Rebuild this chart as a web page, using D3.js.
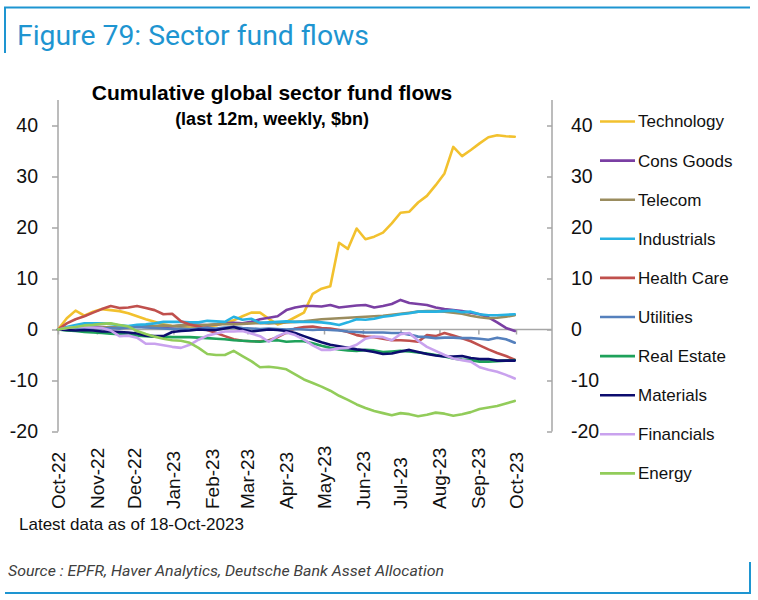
<!DOCTYPE html>
<html><head><meta charset="utf-8">
<script src="https://cdn.jsdelivr.net/npm/d3@7/dist/d3.min.js"></script>
<style>body{margin:0;background:#fff}svg{display:block}</style>
</head><body>
<svg id="chart" width="758" height="600"></svg>
<script>
// ---- data ----
const firstWeek = "2022-10-19";          // weekly (Wednesdays), 53 points
const tickDates = ["2022-10-19","2022-11-19","2022-12-19","2023-01-19","2023-02-19","2023-03-19",
  "2023-04-19","2023-05-19","2023-06-19","2023-07-19","2023-08-19","2023-09-19","2023-10-19"];
const tickLabels = ["Oct-22","Nov-22","Dec-22","Jan-23","Feb-23","Mar-23","Apr-23","May-23",
  "Jun-23","Jul-23","Aug-23","Sep-23","Oct-23"];
const yTicks = [-20,-10,0,10,20,30,40];

const seriesNames = ["Technology","Cons Goods","Telecom","Industrials","Health Care",
  "Utilities","Real Estate","Materials","Financials","Energy"];
const seriesColors = ["#f2c12e","#7a3fa3","#9a8c5e","#27b2e2","#c0504d",
  "#5580bd","#1ea15a","#0c0c6e","#c9a2ee","#92cc5a"];

const technology = [0,2.2,3.7,2.7,3.5,4.0,3.8,3.6,3.2,2.6,2.0,1.5,1.0,0.7,0.5,0.4,0.5,0.6,0.8,1.3,1.8,2.6,3.3,3.3,2.1,1.0,1.5,2.4,3.3,7.0,8.0,8.5,17.0,15.8,19.8,17.7,18.2,19.0,20.8,22.9,23.1,24.9,26.2,28.3,30.6,35.8,34.0,35.2,36.5,37.7,38.1,37.9,37.8];
const consGoods = [0,0.2,0.4,0.5,0.6,0.5,0.4,0.3,0.5,0.7,0.8,0.6,0.5,0.6,0.8,1.0,0.9,0.8,1.0,1.2,1.3,1.2,1.5,2.0,2.3,2.6,3.8,4.3,4.6,4.6,4.5,4.8,4.3,4.5,4.7,4.8,4.3,4.6,5.0,5.8,5.2,5.0,4.8,4.3,4.0,3.8,3.6,3.3,3.0,2.4,1.4,0.3,-0.3];
const telecom = [0,0.1,0.2,0.3,0.2,0.4,0.5,0.4,0.5,0.6,0.5,0.7,0.8,0.7,0.8,0.9,0.8,0.9,1.0,1.1,1.0,1.1,1.2,1.3,1.2,1.3,1.4,1.5,1.6,1.8,2.0,2.1,2.2,2.3,2.4,2.5,2.6,2.7,2.9,3.1,3.3,3.5,3.6,3.6,3.5,3.3,3.1,2.7,2.4,2.2,2.3,2.5,2.8];
const industrials = [0,0.5,0.9,1.2,1.2,1.2,1.1,0.8,0.7,0.9,1.0,1.2,1.5,1.5,1.5,1.4,1.4,1.7,1.6,1.5,2.5,1.9,2.1,1.3,1.4,1.5,1.6,1.5,1.5,1.5,1.4,1.2,0.9,1.4,2.0,1.9,2.1,2.5,2.7,3.0,3.2,3.5,3.5,3.5,3.6,3.7,3.4,3.5,3.0,2.8,2.8,2.9,3.0];
const healthCare = [0,1.2,2.0,2.6,3.3,4.0,4.6,4.2,4.3,4.6,4.2,3.8,3.0,3.1,1.6,1.0,0.6,-0.1,-0.7,-1.3,-1.9,-2.2,-2.3,-2.3,-2.1,-1.5,-0.6,0.2,0.5,0.6,0.3,0.2,-0.1,-0.5,-1.1,-1.4,-1.5,-1.8,-2.1,-2.1,-2.2,-2.4,-1.1,-1.3,-0.7,-1.2,-1.7,-2.3,-3.1,-3.9,-4.6,-5.2,-5.9];
const utilities = [0,0.2,0.3,0.4,0.3,0.2,0.3,0.2,0.4,0.5,0.4,0.3,0.2,0.1,0.2,0.1,0.2,0.3,0.2,0.4,0.5,0.3,0.2,0.1,0.2,0.1,0.0,0.1,0.0,-0.1,0.0,-0.1,-0.2,-0.4,-0.5,-0.6,-0.6,-0.6,-0.7,-0.7,-1.0,-1.4,-1.5,-1.7,-1.6,-1.6,-1.7,-1.7,-1.8,-2.0,-1.6,-1.9,-2.6];
const realEstate = [0,-0.2,-0.3,-0.5,-0.6,-0.7,-0.8,-0.9,-1.0,-1.2,-1.3,-1.4,-1.4,-1.5,-1.5,-1.5,-1.6,-1.7,-1.8,-1.9,-2.1,-2.2,-2.3,-2.4,-2.2,-2.1,-2.4,-2.3,-2.3,-2.7,-3.2,-3.6,-3.9,-4.1,-4.2,-4.0,-4.1,-4.4,-4.3,-4.2,-4.3,-4.5,-4.7,-5.0,-5.3,-5.7,-5.9,-6.0,-6.3,-6.3,-6.2,-6.1,-6.0];
const materials = [0,-0.1,-0.2,-0.1,-0.2,-0.4,-0.4,-0.5,-0.6,-0.8,-1.2,-1.3,-1.3,-0.5,-0.3,-0.2,0.0,-0.1,-0.1,0.2,0.5,0.0,-0.4,-0.2,0.0,-0.1,-0.3,-0.7,-1.3,-1.9,-2.5,-3.0,-3.3,-3.6,-3.9,-4.1,-4.4,-4.8,-4.7,-4.3,-4.0,-4.4,-4.8,-5.1,-5.3,-5.3,-5.2,-5.6,-5.8,-5.8,-6.1,-6.1,-6.1];
const financials = [0,0.3,0.5,0.5,0.4,0.3,-0.2,-1.3,-1.2,-1.6,-2.8,-2.8,-3.1,-3.4,-3.6,-3.0,-2.0,-1.2,-0.8,-0.4,-0.4,-0.3,-0.8,-1.3,-2.4,-1.3,-0.6,-1.1,-2.0,-3.1,-4.0,-4.0,-3.7,-3.6,-3.0,-1.8,-1.4,-1.5,-2.1,-0.9,-0.7,-2.2,-3.4,-4.2,-5.0,-5.7,-6.0,-6.3,-7.4,-7.9,-8.3,-8.9,-9.6];
const energy = [0,0.3,0.5,0.8,0.9,1.1,1.2,0.9,0.6,-0.3,-0.9,-1.4,-1.8,-2.1,-2.2,-2.6,-3.6,-4.8,-5.0,-5.0,-4.2,-5.2,-6.2,-7.4,-7.3,-7.5,-7.8,-8.8,-9.8,-10.5,-11.2,-12.0,-13.0,-13.8,-14.7,-15.4,-16.0,-16.4,-16.8,-16.4,-16.6,-17.0,-16.7,-16.3,-16.5,-16.9,-16.6,-16.2,-15.6,-15.3,-15.0,-14.5,-14.0];

const seriesValues = [technology,consGoods,telecom,industrials,healthCare,utilities,realEstate,materials,financials,energy];

// ---- drawing ----
const svg = d3.select("#chart");
const parse = d3.timeParse("%Y-%m-%d");
const d0 = parse(firstWeek);
const weekDates = technology.map((_, i) => d3.timeDay.offset(d0, 7 * i));

const x = d3.scaleTime().domain([d0, parse("2023-10-19")]).range([58, 516]);
const y = d3.scaleLinear().domain([-20, 45]).range([431.5, 100]);
const blue = "#1e95d1";
const axisGrey = "#a6a6a6";
const font = "'Liberation Sans', Arial, sans-serif";

// frame
svg.append("path").attr("d", "M5,53V7.5H750").attr("fill", "none").attr("stroke", blue).attr("stroke-width", 2);
svg.append("path").attr("d", "M5,593H750V562").attr("fill", "none").attr("stroke", blue).attr("stroke-width", 2);

svg.append("text").attr("x", 17).attr("y", 45).attr("fill", blue)
  .style("font-family", "Roboto, sans-serif").style("font-size", "27px")
  .attr("textLength", 352).attr("lengthAdjust", "spacingAndGlyphs")
  .text("Figure 79: Sector fund flows");

svg.append("text").attr("x", 8).attr("y", 576).attr("fill", "#404040")
  .style("font-family", "Roboto, sans-serif").style("font-size", "15px").style("font-style", "italic")
  .attr("textLength", 436).attr("lengthAdjust", "spacingAndGlyphs")
  .text("Source : EPFR, Haver Analytics, Deutsche Bank Asset Allocation");

// chart titles
svg.append("text").attr("x", 272).attr("y", 100).attr("text-anchor", "middle")
  .style("font-family", font).style("font-size", "21px").style("font-weight", "bold")
  .text("Cumulative global sector fund flows");
svg.append("text").attr("x", 272).attr("y", 125).attr("text-anchor", "middle")
  .style("font-family", font).style("font-size", "18px").style("font-weight", "bold")
  .text("(last 12m, weekly, $bn)");

const fmt = d => String(d);
// left axis
const leftAxis = d3.axisLeft(y).tickValues(yTicks).tickSize(6).tickPadding(14).tickFormat(fmt);
const gL = svg.append("g").attr("transform", "translate(58,0)").call(leftAxis);
gL.select(".domain").attr("d", `M0,${y(45)}V${y(-20)}`);
// right axis
const rightAxis = d3.axisRight(y).tickValues(yTicks).tickSize(0).tickPadding(19).tickFormat(fmt);
const gR = svg.append("g").attr("transform", "translate(552,0)").call(rightAxis);
gR.select(".domain").attr("d", `M0,${y(45)}V${y(-20)}`);
gR.selectAll(".tick").append("line").attr("x1", -5).attr("x2", 0).attr("stroke", axisGrey).attr("stroke-width", 1.5);
[gL, gR].forEach(g => {
  g.selectAll(".domain").attr("stroke", axisGrey).attr("stroke-width", 1.5);
  g.selectAll(".tick line").attr("stroke", axisGrey).attr("stroke-width", 1.5);
  g.selectAll("text").style("font-family", font).style("font-size", "19.5px").attr("fill", "#111");
});

// zero line with month ticks
const tickD = tickDates.map(parse);
const xAxis = d3.axisBottom(x).tickValues(tickD).tickSize(5).tickFormat(() => "");
const gX = svg.append("g").attr("transform", `translate(0,${y(0)})`).call(xAxis);
gX.select(".domain").attr("d", `M58,0H552`).attr("stroke", axisGrey).attr("stroke-width", 1.5);
gX.selectAll(".tick line").attr("stroke", axisGrey).attr("stroke-width", 1.5);

// rotated month labels
svg.append("g").selectAll("text").data(tickD).join("text")
  .attr("transform", d => `translate(${x(d)},509) rotate(-90)`)
  .attr("dy", "0.35em")
  .style("font-family", font).style("font-size", "19px").attr("fill", "#111")
  .text((d, i) => tickLabels[i]);

svg.append("text").attr("x", 19).attr("y", 530)
  .style("font-family", font).style("font-size", "17px").attr("fill", "#111")
  .text("Latest data as of 18-Oct-2023");

// lines
const line = d3.line().x((d, i) => x(weekDates[i])).y(d => y(d));
svg.append("g").selectAll("path").data(seriesValues).join("path")
  .attr("d", line).attr("fill", "none")
  .attr("stroke", (d, i) => seriesColors[i]).attr("stroke-width", 2.6)
  .attr("stroke-linejoin", "round").attr("stroke-linecap", "round");

// legend
const lg = svg.append("g").selectAll("g").data(seriesNames).join("g")
  .attr("transform", (d, i) => `translate(600,${121.5 + i * 39.1})`);
lg.append("line").attr("x1", 0).attr("x2", 35).attr("stroke", (d, i) => seriesColors[i]).attr("stroke-width", 2.6);
lg.append("text").attr("x", 38).attr("dy", "0.35em")
  .style("font-family", font).style("font-size", "17px").attr("fill", "#111").text(d => d);
</script>
</body></html>
